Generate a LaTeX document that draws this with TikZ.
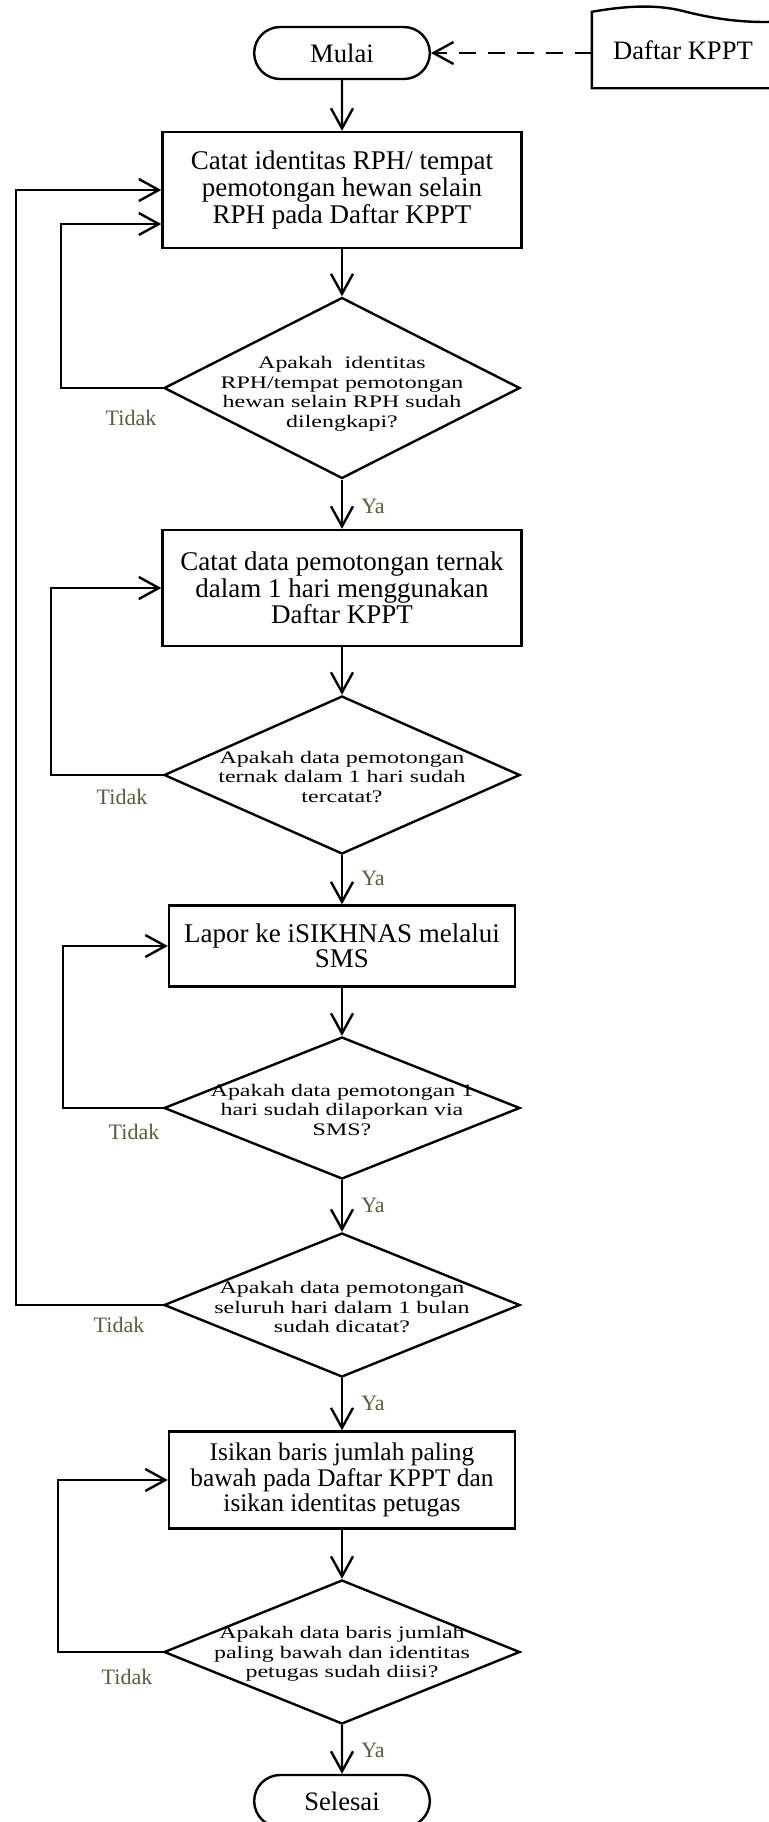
\documentclass[tikz,border=0pt]{standalone}
\usepackage{fontspec}
\setmainfont{Liberation Serif}
\newfontfamily\wideserif{Liberation Serif}[FakeStretch=1.36]
\usetikzlibrary{shapes.geometric,shapes.misc,arrows.meta}
\definecolor{answergreen}{RGB}{79,98,60}

\begin{document}
\begin{tikzpicture}[
    x=0.5pt, y=-0.5pt,
    line width=1.2pt,
    >={Straight Barb[length=10pt,width=11pt]},
    every node/.style={align=center, font=\fontsize{13.5}{13.3}\selectfont},
    term/.style={draw, rounded rectangle, minimum width=94.5pt, minimum height=26pt, font=\fontsize{13.3}{13.3}\selectfont},
    process/.style={draw, rectangle, inner sep=0pt, minimum width=179.5pt},
    decision/.style={draw, diamond, inner sep=0pt, minimum width=178pt},
    question/.style={font=\wideserif\fontsize{8.8}{9.75}\selectfont},
    answer/.style={text=answergreen, font=\fontsize{11}{11}\selectfont}
]
\useasboundingbox (0,0) rectangle (768,1822);

\node[term] (start) at (342,53) {Mulai};
\node[font=\fontsize{13.3}{13.3}\selectfont, minimum width=90pt, minimum height=37pt] (doc) at (683,50) {Daftar KPPT};
\draw (doc.north west) .. controls (625,6) and (655,4) .. (683,11)
    .. controls (710,18) and (740,23) .. ([yshift=-5pt]doc.north east)
    -- (doc.south east) -- (doc.south west) -- cycle;

\node[process, minimum height=58pt] (b1) at (342,190) {Catat identitas RPH/ tempat\\pemotongan hewan selain\\RPH pada Daftar KPPT};
\node[decision, minimum height=90.5pt, label={[question, yshift=-3pt]center:{Apakah~ identitas\\RPH/tempat pemotongan\\hewan selain RPH sudah\\dilengkapi?}}] (d1) at (342,388) {};

\node[process, minimum height=58pt] (b2) at (342,588) {Catat data pemotongan ternak\\dalam 1 hari menggunakan\\Daftar KPPT};
\node[decision, minimum height=79pt, label={[question, yshift=-1pt]center:{Apakah data pemotongan\\ternak dalam 1 hari sudah\\tercatat?}}] (d2) at (342,775) {};

\node[process, minimum width=173pt, minimum height=40.5pt, font=\fontsize{13.5}{12.5}\selectfont] (b3) at (342,946) {Lapor ke iSIKHNAS melalui\\SMS};
\node[decision, minimum height=71pt, label={[question, yshift=-1pt]center:{Apakah data pemotongan 1\\hari sudah dilaporkan via\\SMS?}}] (d3) at (342,1108) {};

\node[decision, minimum height=72pt, label={[question, yshift=-1pt]center:{Apakah data pemotongan\\seluruh hari dalam 1 bulan\\sudah dicatat?}}] (d4) at (342,1305) {};

\node[process, minimum width=173pt, minimum height=48.5pt, font=\fontsize{12.7}{11.3}\selectfont] (b5) at (342,1480) {Isikan baris jumlah paling\\bawah pada Daftar KPPT dan\\isikan identitas petugas};
\node[decision, minimum height=72pt, label={[question, yshift=-1pt]center:{Apakah data baris jumlah\\paling bawah dan identitas\\petugas sudah diisi?}}] (d5) at (342,1652) {};

\node[term] (stop) at (342,1801) {Selesai};

\draw[->, dash pattern=on 8.5pt off 6pt] (start.east -| doc.west) -- (start.east);
\draw[->] (start) -- (b1);
\draw[->] (b1) -- (d1);
\draw[->] (d1) -- (b2);
\draw[->] (b2) -- (d2);
\draw[->] (d2) -- (b3);
\draw[->] (b3) -- (d3);
\draw[->] (d3) -- (d4);
\draw[->] (d4) -- (b5);
\draw[->] (b5) -- (d5);
\draw[->] (d5) -- (stop);

\draw[->] (d1.west) -- ++(-102,0) |- ([yshift=-17pt]b1.west);
\draw[->] (d2.west) -- ++(-112,0) |- (b2.west);
\draw[->] (d3.west) -- ++(-100,0) |- (b3.west);
\draw[->] (d4.west) -- ++(-147,0) |- (b1.west);
\draw[->] (d5.west) -- ++(-105,0) |- (b5.west);

\node[answer] (no1) at (131,418) {Tidak};
\node[answer] (no2) at (122,797) {Tidak};
\node[answer] (no3) at (134,1132) {Tidak};
\node[answer] (no4) at (119,1325) {Tidak};
\node[answer] (no5) at (127,1677) {Tidak};
\node[answer] (yes1) at (373,506) {Ya};
\node[answer] (yes2) at (373,878) {Ya};
\node[answer] (yes3) at (373,1205) {Ya};
\node[answer] (yes4) at (373,1403) {Ya};
\node[answer] (yes5) at (373,1750) {Ya};
\end{tikzpicture}
\end{document}
